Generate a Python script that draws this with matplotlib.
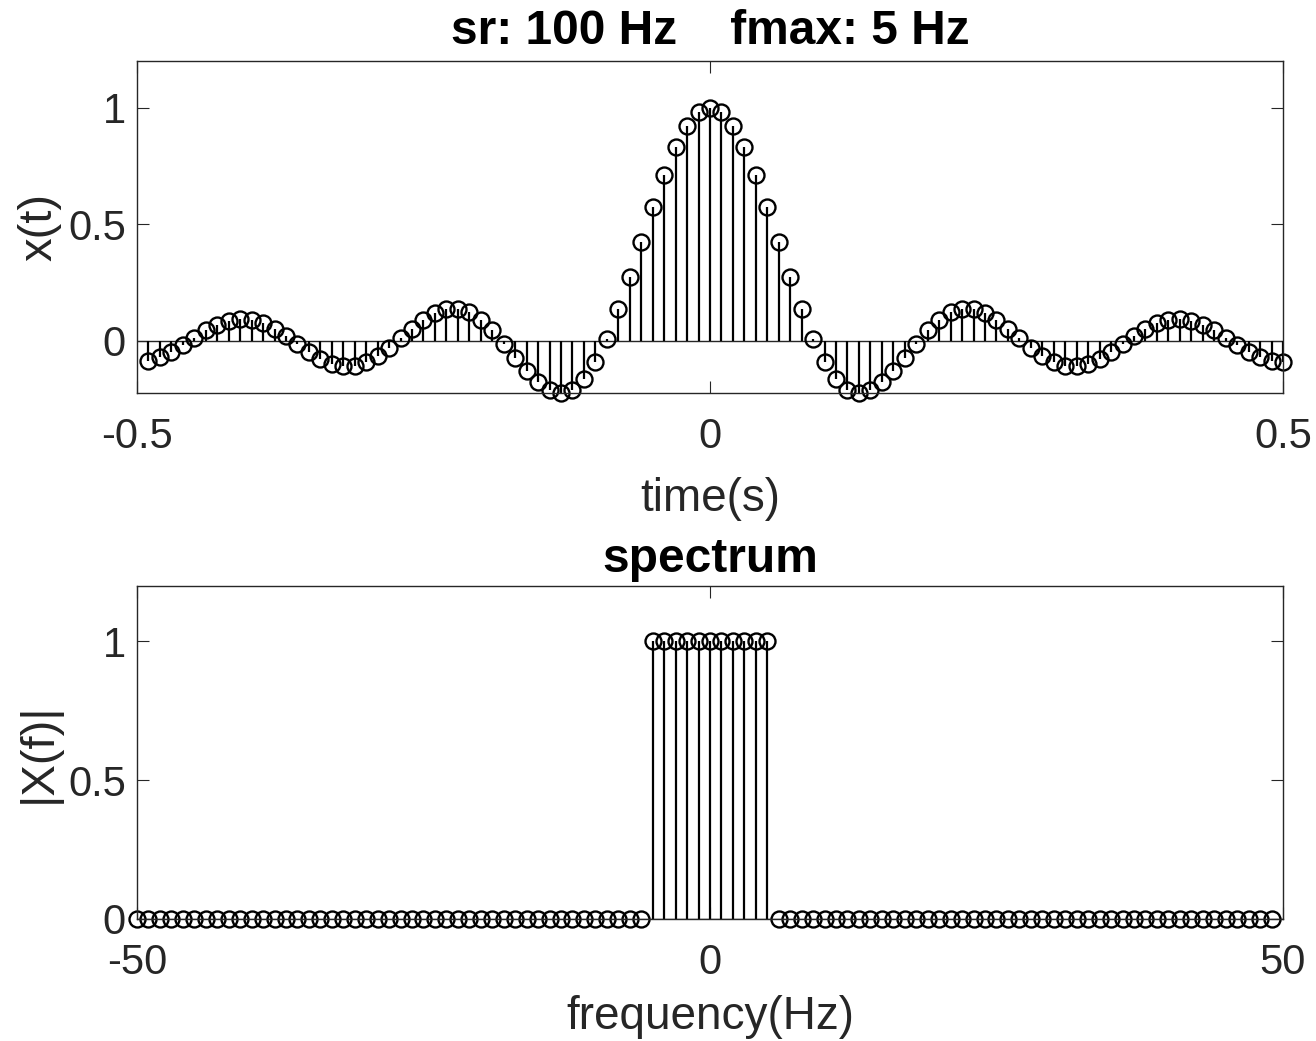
import matplotlib.pyplot as plt
import numpy as np

plt.rcParams['font.family'] = ['Liberation Sans', 'DejaVu Sans']

# sampling setup shown in the title
sample_rate = 100
f_max = 5

# sample times (s): -0.49 ... 0.50
t_vals = np.arange(-49, 51) / sample_rate

# x(t)
x_vals = [
    -0.086, -0.070, -0.046, -0.017, 0.014, 0.045, 0.070, 0.087, 0.095, 0.091,
    0.076, 0.052, 0.022, -0.013, -0.046, -0.076, -0.097, -0.107, -0.106, -0.091,
    -0.065, -0.029, 0.011, 0.053, 0.091, 0.120, 0.137, 0.138, 0.123, 0.091,
    0.045, -0.011, -0.071, -0.129, -0.178, -0.212, -0.223, -0.209, -0.164, -0.091,
    0.010, 0.135, 0.276, 0.425, 0.574, 0.712, 0.831, 0.923, 0.980, 1.000,
    0.980, 0.923, 0.831, 0.712, 0.574, 0.425, 0.276, 0.135, 0.010, -0.091,
    -0.164, -0.209, -0.223, -0.212, -0.178, -0.129, -0.071, -0.011, 0.045, 0.091,
    0.123, 0.138, 0.137, 0.120, 0.091, 0.053, 0.011, -0.029, -0.065, -0.091,
    -0.106, -0.107, -0.097, -0.076, -0.046, -0.013, 0.022, 0.052, 0.076, 0.091,
    0.095, 0.087, 0.070, 0.045, 0.014, -0.017, -0.046, -0.070, -0.086, -0.091,
]

# frequency bins (Hz): -50 ... 49
freq_vals = np.arange(-50, 50)

# |X(f)|
spec_vals = [
    0, 0, 0, 0, 0, 0, 0, 0, 0, 0,
    0, 0, 0, 0, 0, 0, 0, 0, 0, 0,
    0, 0, 0, 0, 0, 0, 0, 0, 0, 0,
    0, 0, 0, 0, 0, 0, 0, 0, 0, 0,
    0, 0, 0, 0, 0, 1, 1, 1, 1, 1,
    1, 1, 1, 1, 1, 1, 0, 0, 0, 0,
    0, 0, 0, 0, 0, 0, 0, 0, 0, 0,
    0, 0, 0, 0, 0, 0, 0, 0, 0, 0,
    0, 0, 0, 0, 0, 0, 0, 0, 0, 0,
    0, 0, 0, 0, 0, 0, 0, 0, 0, 0,
]

axis_col = '#262626'

fig = plt.figure(figsize=(13.16, 10.41), dpi=100)
ax1 = fig.add_axes([0.1041, 0.6225, 0.8708, 0.3189])
ax2 = fig.add_axes([0.1041, 0.1172, 0.8708, 0.3199])


def stem_panel(ax, xs, ys):
    markers, stems, base = ax.stem(xs, ys, linefmt='k-', markerfmt='ko', basefmt=' ')
    stems.set_linewidth(1.6)
    markers.set_markerfacecolor('none')
    markers.set_markeredgewidth(1.7)
    markers.set_markersize(11.5)
    markers.set_clip_on(False)
    ax.axhline(0, color=axis_col, linewidth=1.0, zorder=1)


def style_axes(ax):
    for s in ax.spines.values():
        s.set_color(axis_col)
        s.set_linewidth(1.0)
    ax.tick_params(direction='in', top=True, right=True, length=8.6, width=0.8,
                   color=axis_col, labelcolor=axis_col, labelsize=30)
    ax.tick_params(axis='x', pad=17)
    ax.tick_params(axis='y', pad=8)


# upper panel: time signal
stem_panel(ax1, t_vals, x_vals)
ax1.set_xlim(-0.5, 0.5)
ax1.set_ylim(min(x_vals), 1.2)
ax1.set_xticks([-0.5, 0, 0.5])
ax1.set_xticklabels(['-0.5', '0', '0.5'])
ax1.set_yticks([0, 0.5, 1])
ax1.set_yticklabels(['0', '0.5', '1'])
style_axes(ax1)
ax1.set_title('sr: %d Hz    fmax: %d Hz' % (sample_rate, f_max),
              fontsize=34.5, fontweight='bold', pad=12)
ax1.set_xlabel('time(s)', fontsize=33, color=axis_col, labelpad=15)
ax1.set_ylabel('x(t)', fontsize=34, color=axis_col, labelpad=5)

# lower panel: spectrum
stem_panel(ax2, freq_vals, spec_vals)
ax2.set_xlim(-50, 50)
ax2.set_ylim(0, 1.2)
ax2.set_xticks([-50, 0, 50])
ax2.set_xticklabels(['-50', '0', '50'])
ax2.set_yticks([0, 0.5, 1])
ax2.set_yticklabels(['0', '0.5', '1'])
style_axes(ax2)
ax2.set_title('spectrum', fontsize=34.5, fontweight='bold', pad=10)
ax2.set_xlabel('frequency(Hz)', fontsize=33, color=axis_col, labelpad=9)
ax2.set_ylabel('|X(f)|', fontsize=34, color=axis_col, labelpad=5)

fig.savefig('out.png', dpi=100, facecolor='white')
